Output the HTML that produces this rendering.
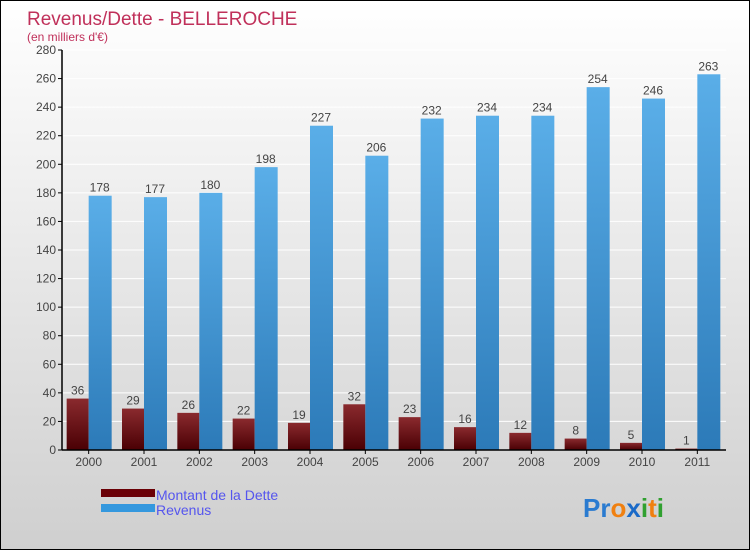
<!DOCTYPE html>
<html><head><meta charset="utf-8"><style>
body{margin:0}
#c{position:relative;width:748px;height:548px;border:1px solid #000;background:linear-gradient(#ffffff,#cfcfcf);font-family:"Liberation Sans",sans-serif;overflow:hidden}
text{font-family:"Liberation Sans",sans-serif}
</style></head><body>
<div id="c">
<svg id="s" width="748" height="548">
<defs>
<linearGradient id="gd" x1="0" y1="0" x2="0" y2="1"><stop offset="0" stop-color="#8a2a2e"/><stop offset="1" stop-color="#4a0004"/></linearGradient>
<linearGradient id="gr" x1="0" y1="0" x2="0" y2="1"><stop offset="0" stop-color="#5aaee8"/><stop offset="1" stop-color="#2c7ab8"/></linearGradient>
</defs>
<text x="26" y="24" font-size="19" fill="#c0305a">Revenus/Dette - BELLEROCHE</text>
<text x="26" y="40" font-size="12" fill="#c0305a">(en milliers d'€)</text>
<g id="plot"></g>
<rect x="100" y="488" width="54" height="8" fill="#6a0006"/>
<rect x="100" y="503" width="54" height="8" fill="#3498de"/>
<text x="155" y="499" font-size="14" fill="#5555ee">Montant de la Dette</text>
<text x="155" y="514" font-size="14" fill="#5555ee">Revenus</text>
<text x="582" y="516" font-size="26" font-weight="bold"><tspan fill="#2a7bd0">Pr</tspan><tspan fill="#f08010">o</tspan><tspan fill="#1a6ac8">x</tspan><tspan fill="#30a030">i</tspan><tspan fill="#f08010">t</tspan><tspan fill="#30a030">i</tspan></text>
</svg>
</div>
<script>
const years=["2000","2001","2002","2003","2004","2005","2006","2007","2008","2009","2010","2011"];
const dette=[36,29,26,22,19,32,23,16,12,8,5,1];
const revenus=[178,177,180,198,227,206,232,234,234,254,246,263];
const ticks=[0,20,40,60,80,100,120,140,160,180,200,220,240,260,280];
const NS="http://www.w3.org/2000/svg";
const g=document.getElementById("plot");
const x0=61,x1=725,yB=449,yT=49,vMax=280;
const y=v=>yB-(v/vMax)*(yB-yT);
const step=(x1-x0)/years.length;
const cx=i=>x0+step*(i+0.5);
function mk(t,a){const e=document.createElementNS(NS,t);for(const k in a)e.setAttribute(k,a[k]);g.appendChild(e);return e;}
ticks.forEach(t=>{
 const l=mk("line",{x1:x0+1,x2:x1,y1:y(t),y2:y(t),stroke:"#ffffff","stroke-width":1});
 
 
 const k=mk("line",{x1:x0-4,x2:x0,y1:y(t),y2:y(t),stroke:"#000"});
 
 
 const tx=mk("text",{x:x0-6,y:y(t)+4,"font-size":12,fill:"#444","text-anchor":"end"});
 tx.textContent=t;
 
 
});
years.forEach((yr,i)=>{
 const c=cx(i);
 const bd=mk("rect",{x:c-23,y:y(dette[i]),width:22,height:yB-y(dette[i]),fill:"url(#gd)"});
 
 
 const br=mk("rect",{x:c-1,y:y(revenus[i]),width:23,height:yB-y(revenus[i]),fill:"url(#gr)"});
 
 
 const ld=mk("text",{x:c-12,y:y(dette[i])-4,"font-size":12,fill:"#444","text-anchor":"middle"});
 ld.textContent=dette[i];
 
 
 const lr=mk("text",{x:c+10,y:y(revenus[i])-4,"font-size":12,fill:"#444","text-anchor":"middle"});
 lr.textContent=revenus[i];
 
 
 const tk=mk("line",{x1:c-1,x2:c-1,y1:yB,y2:yB+4,stroke:"#000"});
 
 
 const xl=mk("text",{x:c-1,y:yB+16,"font-size":12,fill:"#444","text-anchor":"middle"});
 xl.textContent=yr;
 
 
});
const ax=mk("line",{x1:x0,x2:x0,y1:yT,y2:yB,stroke:"#000","stroke-width":1.5});


const axx=mk("line",{x1:x0,x2:x1,y1:yB,y2:yB,stroke:"#000","stroke-width":1.5});


</script>
</body></html>
